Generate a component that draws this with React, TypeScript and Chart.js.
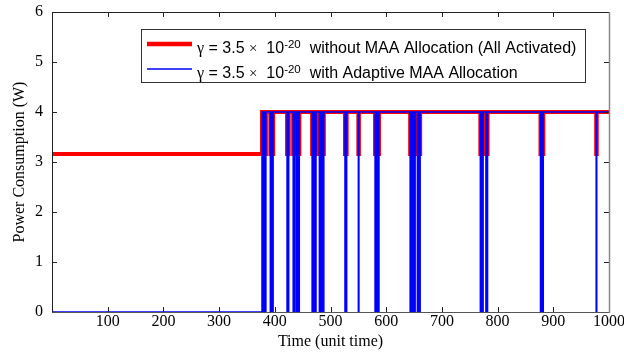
import React, { useEffect, useRef } from "react";
import { Chart, registerables } from "chart.js";

Chart.register(...registerables);

// ---- data ----
const timeSteps: number[] = Array.from({ length: 1001 }, (_, i) => i); // unit time 0..1000
const activationStart = 377; // before this time: idle state
const powerActive = 4; // W
const powerIdleAllActivated = 3.16; // W (red series while idle / switching)
const powerIdleAdaptive = 0; // W (blue series while idle / switching)
// times at which the MAA allocation switches (dips in both series)
const switchTimes: number[] = [
  379, 381, 383,
  392, 394, 396,
  422, 424,
  433, 435,
  439, 441, 443,
  467, 469, 471, 473,
  480, 482,
  485, 487,
  526, 528,
  550,
  580, 582, 584, 586,
  643, 645, 647, 649, 651,
  656, 658, 660,
  769, 771, 773,
  779, 781,
  877, 879, 881,
  977,
];
const xTicks: number[] = [0, 100, 200, 300, 400, 500, 600, 700, 800, 900, 1000];
const yTicks: number[] = [0, 1, 2, 3, 4, 5, 6];
const seriesLabels: string[] = [
  "without MAA Allocation (All Activated)",
  "with Adaptive MAA Allocation",
];

const switchSet = new Set(switchTimes);
const allActivated = timeSteps.map((t) => ({
  x: t,
  y: t < activationStart || switchSet.has(t) ? powerIdleAllActivated : powerActive,
}));
const adaptive = timeSteps.map((t) => ({
  x: t,
  y: t < activationStart || switchSet.has(t) ? powerIdleAdaptive : powerActive,
}));

const SANS = '"Liberation Sans", Arial, sans-serif';
const SERIF = '"Liberation Serif", "Times New Roman", serif';

const framePlugin = {
  id: "frameAndTicks",
  afterDatasetsDraw(chart: any) {
    const { ctx, chartArea, scales } = chart;
    const { left, right, top, bottom } = chartArea;
    ctx.save();
    const tl = 5;
    ctx.strokeStyle = "#222";
    ctx.lineWidth = 1;
    ctx.beginPath();
    xTicks.forEach((v) => {
      const px = Math.round(scales.x.getPixelForValue(v)) + 0.5;
      ctx.moveTo(px, bottom);
      ctx.lineTo(px, bottom - tl);
      ctx.moveTo(px, top);
      ctx.lineTo(px, top + tl);
    });
    yTicks.forEach((v) => {
      const py = Math.round(scales.y.getPixelForValue(v)) + 0.5;
      ctx.moveTo(left, py);
      ctx.lineTo(left + tl, py);
      ctx.moveTo(right, py);
      ctx.lineTo(right - tl, py);
    });
    ctx.stroke();
    // frame
    ctx.beginPath();
    ctx.moveTo(Math.round(left) + 0.5, Math.round(bottom) + 0.5);
    ctx.lineTo(Math.round(left) + 0.5, Math.round(top) + 0.5);
    ctx.lineTo(Math.round(right) + 0.5, Math.round(top) + 0.5);
    ctx.stroke();
    ctx.strokeStyle = "#555";
    ctx.beginPath();
    ctx.moveTo(Math.round(left) + 0.5, Math.round(bottom) + 0.5);
    ctx.lineTo(Math.round(right) + 0.5, Math.round(bottom) + 0.5);
    ctx.stroke();
    ctx.strokeStyle = "#888";
    ctx.lineWidth = 1.5;
    ctx.beginPath();
    ctx.moveTo(Math.round(right) + 0.5, Math.round(top));
    ctx.lineTo(Math.round(right) + 0.5, Math.round(bottom) + 1);
    ctx.stroke();
    ctx.restore();
  },
};

const legendPlugin = {
  id: "customLegend",
  afterDraw(chart: any) {
    const { ctx } = chart;
    ctx.save();
    const bx = 141.5, by = 29.5, bw = 444, bh = 53;
    ctx.fillStyle = "#fff";
    ctx.fillRect(bx, by, bw, bh);
    ctx.strokeStyle = "#333";
    ctx.lineWidth = 1;
    ctx.strokeRect(bx, by, bw, bh);

    const entries = [
      { color: "#ff0000", width: 4.5, lineY: 44, baseline: 53, label: seriesLabels[0] },
      { color: "#0000ff", width: 1.5, lineY: 69, baseline: 78, label: seriesLabels[1] },
    ];
    entries.forEach((e) => {
      ctx.strokeStyle = e.color;
      ctx.lineWidth = e.width;
      ctx.beginPath();
      ctx.moveTo(147, e.lineY);
      ctx.lineTo(192, e.lineY);
      ctx.stroke();

      const segs = [
        { t: "γ", f: `16px ${SERIF}`, dy: 0 },
        { t: " = 3.5 ", f: `16px ${SANS}`, dy: 0 },
        { t: "×", f: `15px ${SERIF}`, dy: 0 },
        { t: "  10", f: `16px ${SANS}`, dy: 0 },
        { t: "-20", f: `11.5px ${SANS}`, dy: -5.5 },
        { t: "  " + e.label, f: `16px ${SANS}`, dy: 0 },
      ];
      let x = 197;
      ctx.fillStyle = "#000";
      ctx.textBaseline = "alphabetic";
      ctx.textAlign = "left";
      segs.forEach((s) => {
        ctx.font = s.f;
        ctx.fillText(s.t, x, e.baseline + s.dy);
        x += ctx.measureText(s.t).width;
      });
    });
    ctx.restore();
  },
};

export default function App() {
  const ref = useRef<HTMLCanvasElement>(null);
  useEffect(() => {
    if (!ref.current) return;
    const chart = new Chart(ref.current, {
      type: "line",
      data: {
        datasets: [
          {
            label: seriesLabels[0],
            data: allActivated,
            borderColor: "#ff0000",
            borderWidth: 4,
            pointRadius: 0,
            stepped: true,
            fill: false,
            order: 2,
          },
          {
            label: seriesLabels[1],
            data: adaptive,
            borderColor: "#0000ff",
            borderWidth: 1.5,
            pointRadius: 0,
            stepped: true,
            fill: false,
            order: 1,
          },
        ],
      },
      options: {
        animation: false,
        responsive: false,
        events: [],
        layout: { padding: { top: 12, right: 15, left: 0, bottom: 0 } },
        plugins: { legend: { display: false }, tooltip: { enabled: false } },
        scales: {
          x: {
            type: "linear",
            min: 0,
            max: 1000,
            afterFit: (s: any) => {
              s.height = 40;
              s.paddingLeft = 0;
              s.paddingRight = 0;
            },
            afterBuildTicks: (s: any) => {
              s.ticks = xTicks.map((v) => ({ value: v }));
            },
            grid: { display: false, drawTicks: false },
            border: { display: false },
            ticks: {
              padding: 0,
              color: "#000",
              font: { family: SERIF, size: 16 },
              maxRotation: 0,
              autoSkip: false,
              callback: (v: any) => (v === 0 ? "" : String(v)),
            },
            title: {
              display: true,
              text: "Time (unit time)",
              color: "#000",
              font: { family: SERIF, size: 16 },
              padding: { top: 0, bottom: 1 },
            },
          },
          y: {
            min: 0,
            max: 6,
            afterFit: (s: any) => {
              s.width = 52;
              s.paddingTop = 0;
              s.paddingBottom = 0;
            },
            afterBuildTicks: (s: any) => {
              s.ticks = yTicks.map((v) => ({ value: v }));
            },
            grid: { display: false, drawTicks: false },
            border: { display: false },
            ticks: {
              padding: 9,
              color: "#000",
              font: { family: SERIF, size: 16 },
              autoSkip: false,
            },
            title: {
              display: true,
              text: "Power Consumption (W)",
              color: "#000",
              font: { family: SERIF, size: 16 },
              padding: { top: 10, bottom: 0 },
            },
          },
        },
      },
      plugins: [framePlugin, legendPlugin],
    });
    return () => chart.destroy();
  }, []);
  return (
    <div style={{ position: "absolute", left: 0, top: 0, width: 624, height: 352, background: "#fff" }}>
      <canvas ref={ref} width={624} height={352} style={{ display: "block" }} />
    </div>
  );
}
